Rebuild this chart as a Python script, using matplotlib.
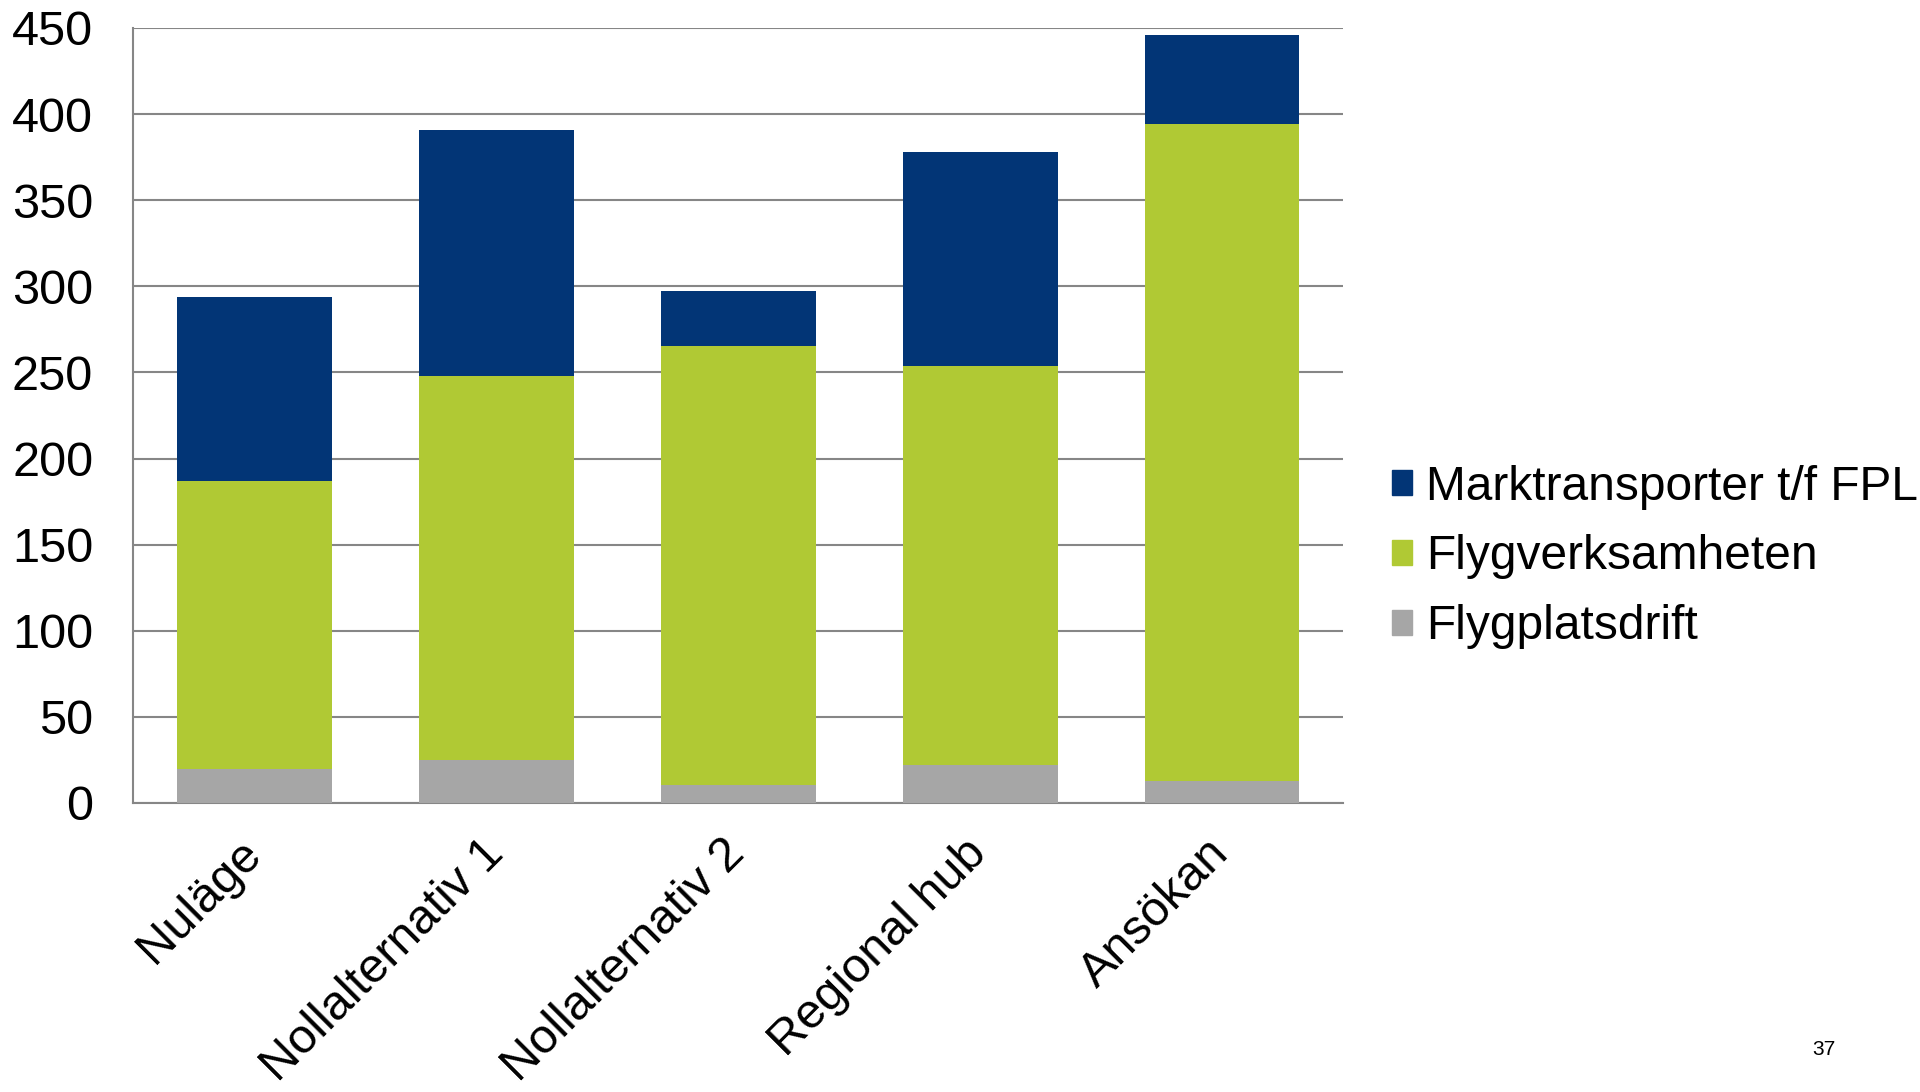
import matplotlib
matplotlib.use("Agg")
import matplotlib.pyplot as plt
from matplotlib.patches import Patch
from matplotlib.transforms import ScaledTranslation
import numpy as np

plt.rcParams['font.family'] = ['Liberation Sans', 'DejaVu Sans']

categories = ["Nuläge", "Nollalternativ 1", "Nollalternativ 2", "Regional hub", "Ansökan"]
flygplatsdrift = [19.5, 25, 10.5, 22, 13]
flygverksamheten = [167.5, 223, 255, 232, 381.5]
marktransporter = [106.5, 143, 31.5, 124, 51.5]

series_names = ["Marktransporter t/f FPL", "Flygverksamheten", "Flygplatsdrift"]
colors = {"Marktransporter t/f FPL": "#023576", "Flygverksamheten": "#B0C934", "Flygplatsdrift": "#A6A6A6"}

fig = plt.figure(figsize=(19.2, 10.92), dpi=100)
ax = fig.add_axes([0.0695, 0.2647, 0.630, 0.7097])

x = np.arange(len(categories))
w = 0.64
b1 = np.array(flygplatsdrift)
b2 = b1 + np.array(flygverksamheten)
ax.bar(x, flygplatsdrift, w, color=colors["Flygplatsdrift"], zorder=3)
ax.bar(x, flygverksamheten, w, bottom=b1, color=colors["Flygverksamheten"], zorder=3)
ax.bar(x, marktransporter, w, bottom=b2, color=colors["Marktransporter t/f FPL"], zorder=3)

ax.set_xlim(-0.5, len(categories) - 0.5)
ax.set_ylim(0, 450)
ax.set_yticks(np.arange(0, 451, 50))
ax.yaxis.grid(True, color="#868686", linewidth=1.5, zorder=0)
ax.set_axisbelow(True)
for s in ["top", "right"]:
    ax.spines[s].set_visible(False)
ax.spines["left"].set_color("#868686")
ax.spines["bottom"].set_color("#868686")
ax.spines["left"].set_linewidth(1.5)
ax.spines["bottom"].set_linewidth(1.5)
ax.tick_params(axis="both", length=0, labelsize=35, colors="black")
ax.tick_params(axis="y", pad=29)
ax.set_xticks(x)
ax.set_xticklabels(categories, rotation=45, ha="right", va="top", rotation_mode="anchor", fontsize=35)
ax.tick_params(axis="x", pad=20)
offset = ScaledTranslation(-0.16, 0, fig.dpi_scale_trans)
for lbl in ax.get_xticklabels():
    lbl.set_transform(lbl.get_transform() + offset)

handles = [Patch(color=colors[n]) for n in series_names]
fig.legend(handles, series_names, loc="center left", bbox_to_anchor=(0.7125, 0.49),
           frameon=False, fontsize=34.5, handlelength=0.42, handleheight=0.42,
           handletextpad=0.3, labelspacing=0.52, borderpad=0)

fig.text(0.950, 0.039, "37", fontsize=15, ha="center", va="center")

fig.savefig("out.png", dpi=100)
